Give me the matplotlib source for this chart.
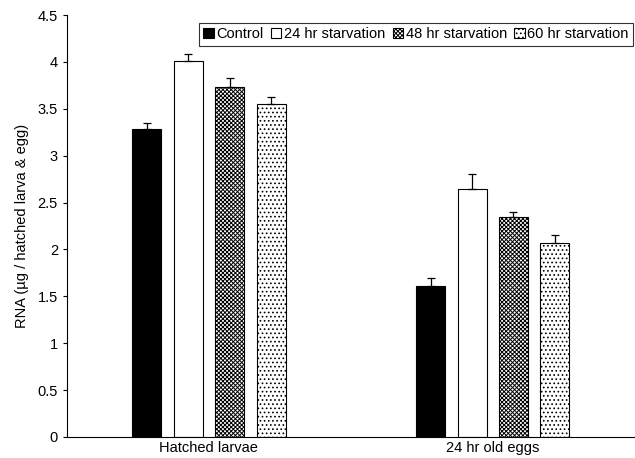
import matplotlib.pyplot as plt
import numpy as np

plt.rcParams['font.family'] = ['Liberation Sans', 'DejaVu Sans']
plt.rcParams['hatch.linewidth'] = 0.7

groups = ['Hatched larvae', '24 hr old eggs']
series = ['Control', '24 hr starvation', '48 hr starvation', '60 hr starvation']
control = [3.28, 1.61]
starv24 = [4.01, 2.65]
starv48 = [3.73, 2.35]
starv60 = [3.55, 2.07]
err_control = [0.07, 0.09]
err_24 = [0.07, 0.15]
err_48 = [0.10, 0.05]
err_60 = [0.08, 0.08]

values = [control, starv24, starv48, starv60]
errors = [err_control, err_24, err_48, err_60]
faces = ['black', 'white', 'white', 'white']
hatches = [None, None, 'xxxxxxxx', '....']

fig = plt.figure(figsize=(6.35, 4.58), dpi=100)
ax = fig.add_axes([0.1055, 0.046, 0.894, 0.921])

x = np.arange(len(groups))
w = 0.102
step = 0.146
for i in range(4):
    pos = x + (i - 1.5) * step
    ax.bar(pos, values[i], w, color=faces[i], edgecolor='black', linewidth=0.8,
           hatch=hatches[i], label=series[i],
           yerr=[np.zeros(2), errors[i]], capsize=3,
           error_kw=dict(elinewidth=0.9, capthick=0.9, ecolor='black'))

ax.set_xlim(-0.5, 1.5)
ax.set_ylim(0, 4.5)
ax.set_yticks(np.arange(0, 4.51, 0.5))
ax.set_yticklabels(['0', '0.5', '1', '1.5', '2', '2.5', '3', '3.5', '4', '4.5'])
ax.set_xticks(x)
ax.set_xticklabels(groups)
ax.tick_params(axis='x', length=0, labelsize=10.5, pad=3)
ax.tick_params(axis='y', length=3, labelsize=10.5, direction='out')
ax.set_ylabel('RNA (µg / hatched larva & egg)', fontsize=10.5, labelpad=6)
ax.spines['top'].set_visible(False)
ax.spines['right'].set_visible(False)

leg = ax.legend(loc='upper right', ncol=4, fontsize=10.5, frameon=True,
                fancybox=False, edgecolor='black', handlelength=0.7,
                handleheight=0.7, handletextpad=0.2, columnspacing=0.5,
                borderpad=0.3, borderaxespad=0.1, bbox_to_anchor=(1.0, 0.985))
leg.get_frame().set_linewidth(0.8)

fig.savefig('out.png', dpi=100)
